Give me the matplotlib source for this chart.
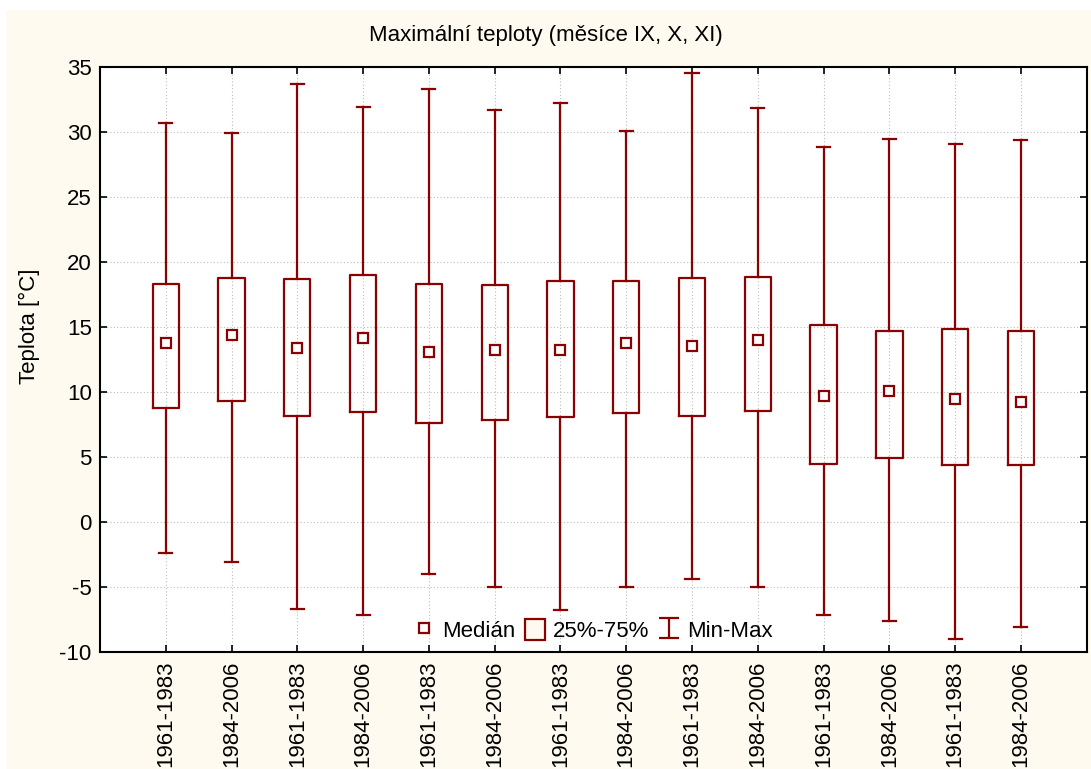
import matplotlib
matplotlib.use("Agg")
import matplotlib.pyplot as plt
from matplotlib.lines import Line2D
from matplotlib.patches import Patch, Rectangle
from matplotlib.path import Path

labels = ["1961-1983", "1984-2006"] * 7
medians = [13.76, 14.35, 13.37, 14.12, 13.10, 13.22, 13.22, 13.73, 13.53, 13.96, 9.67, 10.03, 9.44, 9.21]
q1 = [8.75, 9.31, 8.11, 8.42, 7.62, 7.83, 8.06, 8.34, 8.14, 8.50, 4.43, 4.94, 4.36, 4.36]
q3 = [18.33, 18.72, 18.67, 18.95, 18.33, 18.23, 18.54, 18.54, 18.72, 18.80, 15.11, 14.65, 14.81, 14.65]
mins = [-2.39, -3.08, -6.69, -7.12, -3.98, -4.98, -6.79, -4.98, -4.42, -4.98, -7.12, -7.58, -8.99, -8.04]
maxs = [30.70, 29.94, 33.67, 31.93, 33.29, 31.65, 32.24, 30.02, 34.54, 31.86, 28.82, 29.43, 29.02, 29.35]

RED = "#8B0000"
BG = "#FFFAF0"
FONT = "Liberation Sans"
FS = 16

plt.rcParams["font.family"] = [FONT, "DejaVu Sans"]
plt.rcParams["axes.unicode_minus"] = False

fig = plt.figure(figsize=(10.91, 7.69), dpi=100)
fig.patch.set_facecolor("white")
fig.patches.append(Rectangle((6 / 1091, 0), 1 - 6 / 1091, 1 - 10 / 769,
                             transform=fig.transFigure, facecolor=BG,
                             edgecolor="none", zorder=-10))

ax = fig.add_axes([100 / 1091, 1 - 652 / 769, 986.7 / 1091, 585.3 / 769])
ax.set_facecolor("white")

positions = list(range(1, len(labels) + 1))
stats = []
for i in range(len(labels)):
    stats.append(dict(med=medians[i], q1=q1[i], q3=q3[i],
                      whislo=mins[i], whishi=maxs[i], fliers=[]))

ax.bxp(stats, positions=positions, widths=0.4, capwidths=0.2,
       showfliers=False,
       boxprops=dict(color=RED, linewidth=1.6),
       whiskerprops=dict(color=RED, linewidth=1.6),
       capprops=dict(color=RED, linewidth=1.6),
       medianprops=dict(linewidth=0),
       zorder=3)
ax.plot(positions, medians, linestyle="none", marker="s", markersize=7,
        markerfacecolor="white", markeredgecolor=RED, markeredgewidth=1.6,
        zorder=4)

ax.set_xlim(0, 15)
ax.set_ylim(-10, 35)
ax.set_yticks(range(-10, 36, 5))
ax.set_xticks(positions)
ax.set_xticklabels(labels, rotation=90, fontsize=FS)
ax.tick_params(axis="y", labelsize=FS)
ax.tick_params(direction="in", length=5, width=1.2, top=True, right=True,
               color="black", pad=6)
ax.grid(True, linestyle=(0, (1, 2)), color="#bdbdbd", linewidth=0.8, zorder=0)
ax.set_axisbelow(True)
for s in ax.spines.values():
    s.set_linewidth(1.5)
    s.set_color("black")

ax.set_ylabel("Teplota [°C]", fontsize=FS)
ax.yaxis.set_label_coords((40 - 100) / 986.7, (652 - 326) / 585.3)
fig.text(0.5, 1 - 35 / 769, "Maximální teploty (měsíce IX, X, XI)",
         ha="center", va="center", fontsize=FS)

ibeam = Path([(-1, -1), (1, -1), (0, -1), (0, 1), (-1, 1), (1, 1)],
             [Path.MOVETO, Path.LINETO, Path.MOVETO, Path.LINETO,
              Path.MOVETO, Path.LINETO])
h1 = Line2D([], [], linestyle="none", marker="s", markersize=7,
            markerfacecolor="white", markeredgecolor=RED, markeredgewidth=1.6)
h2 = Patch(facecolor=BG, edgecolor=RED, linewidth=1.6)
h3 = Line2D([], [], linestyle="none", marker=ibeam, markersize=14,
            markerfacecolor="none", markeredgecolor=RED, markeredgewidth=1.6)
ax.legend([h1, h2, h3], ["Medián", "25%-75%", "Min-Max"], ncol=3,
          loc="lower center", bbox_to_anchor=(0.5, 0.0), frameon=False,
          fontsize=FS, handlelength=0.9, handleheight=1.1, handletextpad=0.35,
          columnspacing=0.45, borderaxespad=0.05)

fig.savefig("out.png", dpi=100, facecolor=fig.get_facecolor())
